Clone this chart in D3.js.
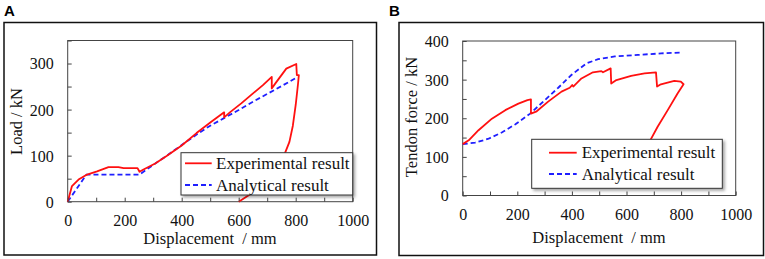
<!DOCTYPE html>
<html>
<head>
<meta charset="utf-8">
<script src="https://cdn.jsdelivr.net/npm/d3@7"></script>
<style>
  body { margin: 0; background: #fff; }
  svg { display: block; }
</style>
</head>
<body>
<div id="chart"></div>
<script>
(function () {
  "use strict";

  // ── Datos ──────────────────────────────────────────────
  const dispTicks = [0, 100, 200, 300, 400, 500, 600, 700, 800, 900, 1000];
  const dispLabels = [0, 200, 400, 600, 800, 1000];
  const loadTicks = [0, 50, 100, 150, 200, 250, 300, 350];
  const loadLabels = [0, 100, 200, 300];
  const tendonTicks = [0, 50, 100, 150, 200, 250, 300, 350, 400];
  const tendonLabels = [0, 100, 200, 300, 400];
  const seriesNames = ["Experimental result", "Analytical result"];

  // Panel A: carga-desplazamiento
  const loadExpX = [0, 15, 38, 68, 103, 143, 178, 196, 245, 252, 266, 307, 347, 400, 452, 505, 549, 549, 569, 610, 644, 685, 716, 716, 730, 767, 802, 804, 811, 808, 800, 790, 778, 762, 740, 700, 650, 600];
  const loadExpY = [0, 34, 48, 59, 66, 75, 75, 73, 73, 65, 70, 83, 99, 122, 149, 174, 194, 183, 194, 214, 232, 253, 271, 246, 258, 289, 299, 275, 275, 255, 210, 165, 130, 105, 85, 55, 20, 0];
  const loadAnaX = [0, 66, 252, 300, 350, 400, 450, 500, 550, 600, 650, 700, 750, 802];
  const loadAnaY = [0, 59, 59, 80, 101, 123, 145, 165, 182, 199, 217, 234, 251, 269];

  // Panel B: fuerza en tendón
  const tendonExpX = [0, 22, 58, 107, 156, 204, 237, 250, 250, 271, 313, 362, 392, 401, 405, 435, 477, 508, 514, 542, 544, 563, 617, 666, 708, 712, 726, 775, 799, 809, 787, 751, 714, 684, 650, 610];
  const tendonExpY = [133, 143, 169, 199, 221, 238, 247, 249, 212, 218, 243, 269, 279, 286, 282, 303, 319, 322, 319, 329, 290, 299, 310, 316, 319, 282, 288, 297, 295, 288, 264, 221, 178, 139, 95, 40];
  const tendonAnaX = [0, 46, 95, 143, 192, 247, 301, 350, 398, 453, 496, 557, 642, 727, 797];
  const tendonAnaY = [133, 137, 147, 163, 184, 212, 247, 279, 312, 342, 353, 360, 364, 368, 370];

  const zip = (xs, ys) => xs.map((v, i) => [v, ys[i]]);

  // ── Configuración de paneles ───────────────────────────
  const panels = [
    {
      tag: "A",
      tagX: 4,
      outer: { x: 4, y: 22.5, w: 372.5, h: 232.5 },
      plot: { left: 67.7, top: 40.5, right: 352.7, bottom: 201.7 },
      yDomain: [0, 350],
      yTicks: loadTicks,
      yLabels: loadLabels,
      yTitle: "Load / kN",
      yTitlePos: [22, 121.5],
      xTitlePos: [210, 244],
      legend: { x: 181, y: 152.7, w: 171.7, h: 42.3, rows: [163.3, 185], lx0: 185, lx1: 211.7, tx: 216 },
      exp: zip(loadExpX, loadExpY),
      ana: zip(loadAnaX, loadAnaY),
    },
    {
      tag: "B",
      tagX: 389,
      outer: { x: 399, y: 22.5, w: 364.5, h: 233 },
      plot: { left: 462.7, top: 41, right: 735.7, bottom: 195.5 },
      yDomain: [0, 400],
      yTicks: tendonTicks,
      yLabels: tendonLabels,
      yTitle: "Tendon force / kN",
      yTitlePos: [417, 117],
      xTitlePos: [599, 243],
      legend: { x: 531.7, y: 139.3, w: 190.6, h: 49, rows: [152.7, 174], lx0: 549, lx1: 576.7, tx: 581.7 },
      exp: zip(tendonExpX, tendonExpY),
      ana: zip(tendonAnaX, tendonAnaY),
    },
  ];

  const SERIF = "'Liberation Serif', 'Times New Roman', serif";
  const RED = "#ff1010";
  const BLUE = "#1f1fff";

  const svg = d3.select("#chart").append("svg").attr("width", 765).attr("height", 259);

  // Sombra de la leyenda
  const filter = svg.append("defs").append("filter").attr("id", "shadow").attr("x", "-10%").attr("y", "-10%").attr("width", "130%").attr("height", "140%");
  filter.append("feDropShadow").attr("dx", 2).attr("dy", 2).attr("stdDeviation", 1.5).attr("flood-color", "#000").attr("flood-opacity", 0.35);

  function drawPanel(p) {
    const g = svg.append("g");

    // Marco exterior y etiqueta
    g.append("rect")
      .attr("x", p.outer.x)
      .attr("y", p.outer.y)
      .attr("width", p.outer.w)
      .attr("height", p.outer.h)
      .attr("fill", "none")
      .attr("stroke", "#111")
      .attr("stroke-width", 1.5);

    g.append("text").attr("x", p.tagX).attr("y", 15.5).attr("font-family", "'Liberation Sans', Arial, sans-serif").attr("font-weight", "bold").attr("font-size", "15px").text(p.tag);

    const x = d3.scaleLinear().domain([0, 1000]).range([p.plot.left, p.plot.right]);
    const y = d3.scaleLinear().domain(p.yDomain).range([p.plot.bottom, p.plot.top]);

    // Marco del área de trazado
    g.append("rect")
      .attr("x", p.plot.left)
      .attr("y", p.plot.top)
      .attr("width", p.plot.right - p.plot.left)
      .attr("height", p.plot.bottom - p.plot.top)
      .attr("fill", "none")
      .attr("stroke", "#444")
      .attr("stroke-width", 1);

    const line = d3
      .line()
      .x((d) => x(d[0]))
      .y((d) => y(d[1]));

    g.append("path").attr("d", line(p.ana)).attr("fill", "none").attr("stroke", BLUE).attr("stroke-width", 1.8).attr("stroke-dasharray", "5,3");

    g.append("path").attr("d", line(p.exp)).attr("fill", "none").attr("stroke", RED).attr("stroke-width", 1.8).attr("stroke-linejoin", "round");

    // Ejes (ticks hacia dentro)
    const xAxis = d3
      .axisBottom(x)
      .tickValues(dispTicks)
      .tickSizeInner(-4)
      .tickSizeOuter(0)
      .tickPadding(13)
      .tickFormat((d) => (dispLabels.includes(d) ? d : ""));

    const yAxis = d3
      .axisLeft(y)
      .tickValues(p.yTicks)
      .tickSizeInner(-4)
      .tickSizeOuter(0)
      .tickPadding(14)
      .tickFormat((d) => (p.yLabels.includes(d) ? d : ""));

    const gx = g.append("g").attr("transform", `translate(0,${p.plot.bottom})`).call(xAxis);
    const gy = g.append("g").attr("transform", `translate(${p.plot.left},0)`).call(yAxis);

    [gx, gy].forEach((ax) => {
      ax.select(".domain").remove();
      ax.selectAll(".tick line").attr("stroke", "#444");
      ax.selectAll(".tick text").attr("font-family", SERIF).attr("font-size", "16px").attr("fill", "#111");
    });
    gy.selectAll(".tick text").attr("dy", "0.34em");

    // Títulos de ejes
    g.append("text")
      .attr("transform", `translate(${p.yTitlePos[0]},${p.yTitlePos[1]}) rotate(-90)`)
      .attr("text-anchor", "middle")
      .attr("font-family", SERIF)
      .attr("font-size", "16.5px")
      .attr("fill", "#111")
      .text(p.yTitle);

    g.append("text")
      .attr("x", p.xTitlePos[0])
      .attr("y", p.xTitlePos[1])
      .attr("text-anchor", "middle")
      .attr("font-family", SERIF)
      .attr("font-size", "16.5px")
      .attr("fill", "#111")
      .attr("xml:space", "preserve")
      .style("white-space", "pre")
      .text("Displacement  / mm");

    // Leyenda
    const L = p.legend;
    g.append("rect").attr("x", L.x).attr("y", L.y).attr("width", L.w).attr("height", L.h).attr("fill", "#fff").attr("stroke", "#333").attr("stroke-width", 1).attr("filter", "url(#shadow)");

    seriesNames.forEach((name, i) => {
      const ry = L.rows[i];
      g.append("line")
        .attr("x1", L.lx0)
        .attr("x2", L.lx1)
        .attr("y1", ry)
        .attr("y2", ry)
        .attr("stroke", i === 0 ? RED : BLUE)
        .attr("stroke-width", 1.8)
        .attr("stroke-dasharray", i === 0 ? null : "5,3");
      g.append("text").attr("x", L.tx).attr("y", ry + 5.5).attr("font-family", SERIF).attr("font-size", "17px").attr("fill", "#111").text(name);
    });
  }

  panels.forEach(drawPanel);
})();
</script>
</body>
</html>
